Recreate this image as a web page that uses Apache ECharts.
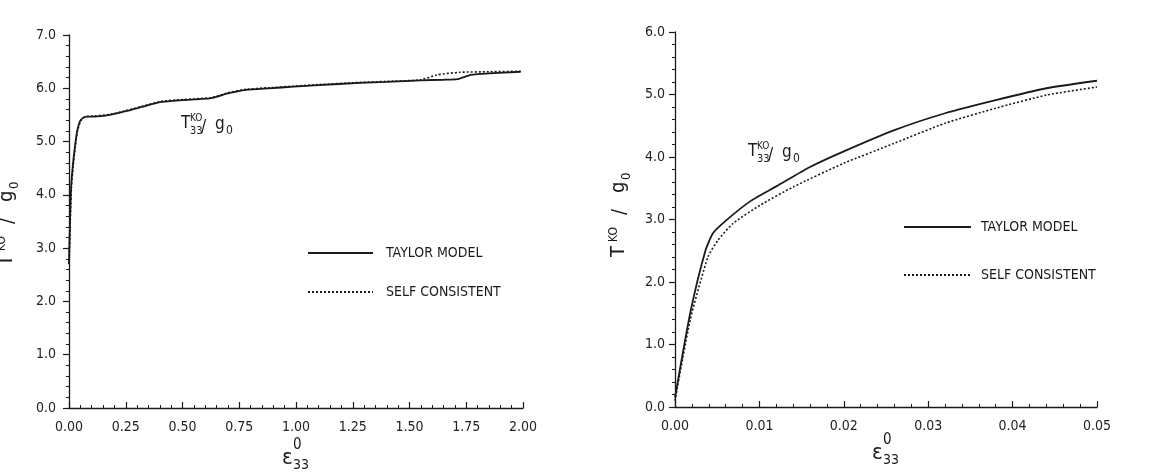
<!DOCTYPE html>
<html>
<head>
<meta charset="utf-8">
<script src="https://cdn.jsdelivr.net/npm/echarts@6/dist/echarts.min.js"></script>
<style>
  html, body { margin: 0; padding: 0; background: #fff; }
  #main { width: 1150px; height: 475px; }
</style>
</head>
<body>
<div id="main"></div>
<script>
// left panel: strain 0 .. 2
var leftTaylorX = [0, 0.005, 0.01, 0.018, 0.026, 0.036, 0.048, 0.06, 0.078, 0.11, 0.18, 0.25, 0.32, 0.40, 0.47, 0.55, 0.62, 0.65, 0.695, 0.78, 0.88, 0.99, 1.1, 1.28, 1.4, 1.55, 1.65, 1.71, 1.77, 1.85, 1.99];
var leftTaylorY = [2.7, 3.6, 4.2, 4.6, 4.9, 5.2, 5.38, 5.44, 5.47, 5.47, 5.5, 5.57, 5.65, 5.74, 5.77, 5.79, 5.81, 5.84, 5.9, 5.97, 6.0, 6.03, 6.06, 6.1, 6.12, 6.15, 6.16, 6.17, 6.25, 6.28, 6.31];
var leftSelfX = [0, 0.006, 0.011, 0.019, 0.027, 0.037, 0.049, 0.06, 0.078, 0.11, 0.18, 0.25, 0.32, 0.40, 0.47, 0.55, 0.62, 0.65, 0.695, 0.78, 0.88, 0.99, 1.1, 1.28, 1.4, 1.55, 1.62, 1.72, 1.85, 1.99];
var leftSelfY = [2.7, 3.55, 4.15, 4.55, 4.87, 5.18, 5.37, 5.44, 5.47, 5.48, 5.51, 5.58, 5.66, 5.75, 5.78, 5.8, 5.82, 5.85, 5.91, 5.98, 6.01, 6.04, 6.07, 6.11, 6.13, 6.16, 6.25, 6.3, 6.31, 6.32];

// right panel: strain 0 .. 0.05
var rightTaylorX = [0, 0.0018, 0.0036, 0.0045, 0.0061, 0.0089, 0.012, 0.016, 0.02, 0.026, 0.032, 0.038, 0.044, 0.05];
var rightTaylorY = [0.15, 1.5, 2.5, 2.78, 2.99, 3.29, 3.53, 3.84, 4.09, 4.43, 4.70, 4.91, 5.10, 5.22];
var rightSelfX = [0, 0.0018, 0.0039, 0.0051, 0.0069, 0.0101, 0.014, 0.02, 0.026, 0.032, 0.038, 0.044, 0.05];
var rightSelfY = [0.1, 1.39, 2.4, 2.67, 2.94, 3.23, 3.52, 3.9, 4.22, 4.54, 4.78, 4.99, 5.12];

var seriesNames = ['TAYLOR MODEL', 'SELF CONSISTENT'];

var FONT = '"DejaVu Sans Condensed", "Liberation Sans Narrow", "DejaVu Sans", sans-serif';
var INK = '#1a1a1a';

function pairs(xs, ys) {
  return xs.map(function (x, i) { return [x, ys[i]]; });
}

function xAxisOf(gridIndex, max, interval, digits) {
  return {
    type: 'value', gridIndex: gridIndex, min: 0, max: max, interval: interval,
    axisLine: { lineStyle: { color: INK, width: 1.3 } },
    axisTick: { inside: true, length: 6, lineStyle: { color: INK, width: 1.2 } },
    minorTick: { show: true, splitNumber: 5, length: 3, lineStyle: { color: INK } },
    splitLine: { show: false },
    axisLabel: { color: '#222', fontFamily: FONT, fontSize: 14, margin: 12,
      formatter: function (v) { return v.toFixed(digits); } }
  };
}

function yAxisOf(gridIndex, max, margin) {
  return {
    type: 'value', gridIndex: gridIndex, min: 0, max: max, interval: 1,
    axisLine: { show: true, lineStyle: { color: INK, width: 1.3 } },
    axisTick: { show: true, length: 6, lineStyle: { color: INK, width: 1.2 } },
    minorTick: { show: true, splitNumber: 5, length: 3, lineStyle: { color: INK } },
    splitLine: { show: false },
    axisLabel: { color: '#222', fontFamily: FONT, fontSize: 14, margin: margin,
      formatter: function (v) { return v.toFixed(1); } }
  };
}

function lineSeries(name, idx, data, dotted) {
  return {
    name: name, type: 'line', xAxisIndex: idx, yAxisIndex: idx,
    data: data, showSymbol: false, smooth: 0.2,
    lineStyle: { color: INK, width: dotted ? 1.6 : 1.8, type: dotted ? [2, 2] : 'solid' },
    itemStyle: { color: INK }
  };
}

// pieces of math text: [text, dx, baseline dy, fontSize]
function mathText(x, y, rot, parts) {
  return {
    type: 'group', x: x, y: y, rotation: rot || 0,
    children: parts.map(function (p) {
      return {
        type: 'text', x: p[1], y: p[2] - 0.36 * p[3],
        style: { text: p[0], fill: INK, font: p[3] + 'px ' + FONT, verticalAlign: 'middle', align: 'left' }
      };
    })
  };
}

var yName = [['T', 0, 0, 20], ['KO', 15, -8, 12], ['/', 42, 1, 20], ['g', 64, 0, 20], ['0', 77, 5, 13]];
var epsName = [['\u03b5', 0, 0, 22], ['0', 11, -15, 15], ['33', 11, 4, 14]];
var curveName = [['T', 0, 0, 17], ['KO', 9, -8, 10], ['33', 9, 5, 11], ['/', 20, 4, 17], ['g', 34, 1, 17], ['0', 45, 5, 12]];

var chartDom = document.getElementById('main');
var myChart = echarts.init(chartDom);
var option;

option = {
  backgroundColor: '#fff',
  animation: false,
  grid: [
    { left: 69, top: 35, width: 454, height: 373 },
    { left: 675, top: 32, width: 422, height: 375 }
  ],
  xAxis: [xAxisOf(0, 2, 0.25, 2), xAxisOf(1, 0.05, 0.01, 2)],
  yAxis: [yAxisOf(0, 7, 13), yAxisOf(1, 6, 10)],
  legend: [
    { orient: 'vertical', left: 307, top: 246, padding: 0, itemWidth: 65, itemHeight: 14, itemGap: 25,
      selectedMode: false, data: seriesNames, itemStyle: { opacity: 0 },
      textStyle: { fontFamily: FONT, fontSize: 14, color: INK, padding: [0, 0, 0, 8] } },
    { orient: 'vertical', left: 903, top: 220, padding: 0, itemWidth: 67, itemHeight: 14, itemGap: 34,
      selectedMode: false, data: seriesNames, itemStyle: { opacity: 0 },
      textStyle: { fontFamily: FONT, fontSize: 14, color: INK, padding: [0, 0, 0, 5] } }
  ],
  graphic: [
    mathText(14, 266, Math.PI / 2, yName),
    mathText(626, 257, Math.PI / 2, yName),
    mathText(282, 466, 0, epsName),
    mathText(872, 461, 0, epsName),
    mathText(181, 130, 0, curveName),
    mathText(748, 158, 0, curveName)
  ],
  series: [
    lineSeries(seriesNames[0], 0, pairs(leftTaylorX, leftTaylorY), false),
    lineSeries(seriesNames[1], 0, pairs(leftSelfX, leftSelfY), true),
    lineSeries(seriesNames[0], 1, pairs(rightTaylorX, rightTaylorY), false),
    lineSeries(seriesNames[1], 1, pairs(rightSelfX, rightSelfY), true)
  ]
};

option && myChart.setOption(option);
</script>
</body>
</html>
